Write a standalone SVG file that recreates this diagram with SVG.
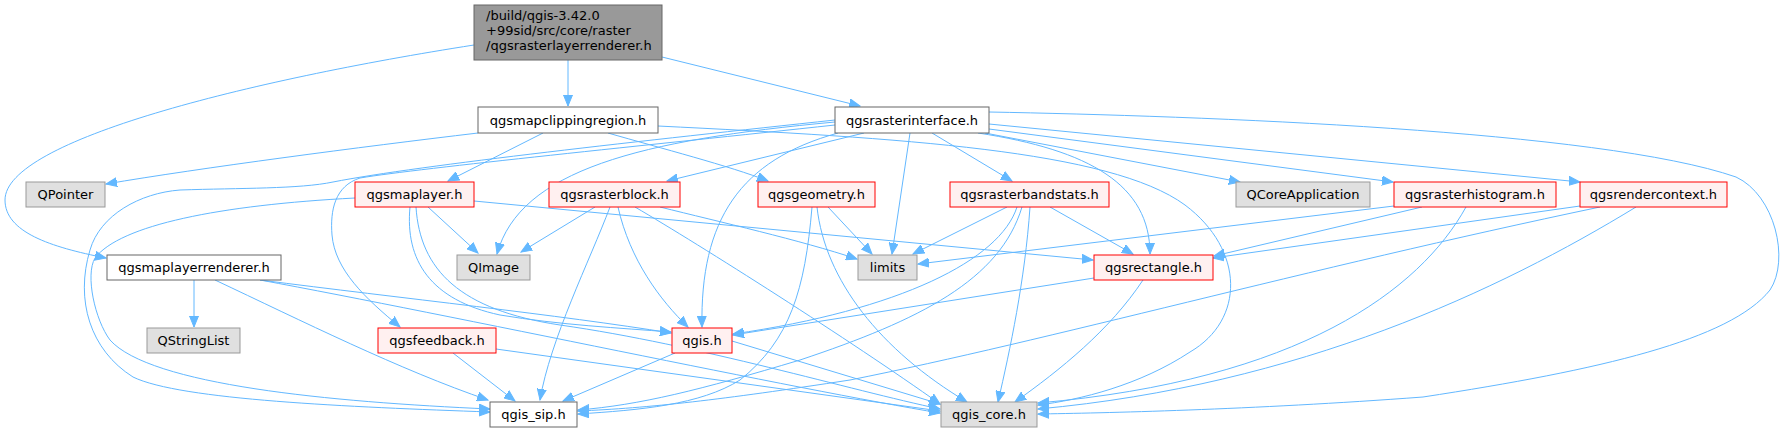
<svg xmlns="http://www.w3.org/2000/svg" width="1783" height="432" viewBox="0 0 1783 432">
<style>
.n rect{stroke-width:1}
.w rect{fill:#ffffff;stroke:#666666}
.g rect{fill:#e0e0e0;stroke:#999999}
.r rect{fill:#fff0f0;stroke:#ff0000}
.rt rect{fill:#999999;stroke:#666666}
text{font-family:"DejaVu Sans","Liberation Sans",sans-serif;font-size:13px;fill:#000000}
.n text{text-anchor:middle}
.rt text{text-anchor:start}
#edges path{fill:none;stroke:#63b8ff;stroke-width:1;marker-end:url(#arr)}
</style>
<defs>
<marker id="arr" markerWidth="12" markerHeight="10" refX="11" refY="5" orient="auto" markerUnits="userSpaceOnUse">
<path d="M0,0.5 L11,5 L0,9.5 z" fill="#63b8ff" stroke="#63b8ff" stroke-width="1"/>
</marker>
</defs>
<rect width="1783" height="432" fill="#ffffff"/>
<g id="edges">
<path d="M568,60 L568,106"/>
<path d="M662,57 L860,106"/>
<path d="M474,45 C 250,80 5,140 5,200 C 5,232 50,247 106,258"/>
<path d="M478,133 C 360,147 200,168 106,184"/>
<path d="M543,133 L448,181"/>
<path d="M608,133 C 660,148 730,166 768,181"/>
<path d="M658,126 C 900,138 1110,150 1185,205 C 1245,250 1245,320 1190,352 C 1140,385 1080,400 1038,405"/>
<path d="M864,133 L667,181"/>
<path d="M835,122 C 640,140 520,170 497,254"/>
<path d="M910,133 L892,254"/>
<path d="M932,133 L1012,181"/>
<path d="M978,133 C 1090,150 1150,185 1150,254"/>
<path d="M985,133 L1240,182"/>
<path d="M989,129 L1393,182"/>
<path d="M989,124 L1580,182"/>
<path d="M989,112 C 1200,116 1600,130 1736,177 C 1775,195 1790,260 1770,290 C 1730,340 1600,370 1423,397 C 1250,410 1100,413 1038,414"/>
<path d="M838,133 C 740,160 700,220 702,327"/>
<path d="M835,120 C 650,140 420,165 333,182 C 300,189 240,188 180,190 C 140,193 100,215 90,250 C 75,300 90,350 133,377 C 180,400 350,407 490,412"/>
<path d="M835,125 C 650,145 420,168 360,178 C 335,186 330,210 332,235 C 335,270 365,298 400,327"/>
<path d="M355,198 C 220,205 120,225 95,258 C 85,275 95,320 110,340 C 150,385 330,402 490,409"/>
<path d="M194,280 L194,327"/>
<path d="M215,280 C 300,320 400,370 488,400"/>
<path d="M260,280 C 400,298 560,315 671,333"/>
<path d="M260,280 C 450,315 800,390 940,413"/>
<path d="M428,207 L478,253"/>
<path d="M410,207 C 405,260 430,300 500,315 C 560,325 620,328 671,332"/>
<path d="M416,207 C 420,270 460,310 560,325 C 700,345 850,390 940,409"/>
<path d="M474,201 L1093,260"/>
<path d="M595,207 L521,252"/>
<path d="M610,207 C 590,260 550,340 540,400"/>
<path d="M618,207 C 630,260 660,300 688,327"/>
<path d="M635,207 C 700,245 850,340 940,404"/>
<path d="M660,207 C 720,222 800,240 857,259"/>
<path d="M828,207 L872,254"/>
<path d="M817,207 C 825,280 880,350 967,402"/>
<path d="M812,207 C 805,290 790,340 740,380 C 700,405 640,410 578,414"/>
<path d="M1007,207 L913,254"/>
<path d="M1017,207 C 1000,260 900,310 733,334"/>
<path d="M1022,207 C 1000,280 920,320 800,360 C 700,390 640,405 578,410"/>
<path d="M1030,207 C 1025,280 1010,350 998,402"/>
<path d="M1050,207 L1133,254"/>
<path d="M1394,206 L918,264"/>
<path d="M1422,207 L1214,256"/>
<path d="M1466,207 C 1420,290 1300,380 1038,403"/>
<path d="M1580,206 L1213,258"/>
<path d="M1600,207 C 1300,270 1050,340 850,380 C 720,400 650,408 578,411"/>
<path d="M1636,207 C 1500,290 1300,385 1038,409"/>
<path d="M1094,278 L733,335"/>
<path d="M1143,280 C 1110,330 1060,370 1015,402"/>
<path d="M453,353 L515,401"/>
<path d="M496,349 L940,411"/>
<path d="M675,353 L563,401"/>
<path d="M732,341 L940,404"/>
</g>
<g id="node_root" class="n rt"><rect x="474" y="5" width="188" height="55"/><text x="486" y="20">/build/qgis-3.42.0</text><text x="486" y="35">+99sid/src/core/raster</text><text x="486" y="50">/qgsrasterlayerrenderer.h</text></g>
<g id="node_mapclippingregion" class="n w"><rect x="478" y="107" width="180" height="26"/><text x="568" y="124.5">qgsmapclippingregion.h</text></g>
<g id="node_rasterinterface" class="n w"><rect x="835" y="107" width="154" height="26"/><text x="912" y="124.5">qgsrasterinterface.h</text></g>
<g id="node_qpointer" class="n g"><rect x="26" y="182" width="79" height="25"/><text x="65.5" y="199">QPointer</text></g>
<g id="node_maplayer" class="n r"><rect x="355" y="182" width="119" height="25"/><text x="414.5" y="199">qgsmaplayer.h</text></g>
<g id="node_rasterblock" class="n r"><rect x="549" y="182" width="131" height="25"/><text x="614.5" y="199">qgsrasterblock.h</text></g>
<g id="node_geometry" class="n r"><rect x="758" y="182" width="117" height="25"/><text x="816.5" y="199">qgsgeometry.h</text></g>
<g id="node_rasterbandstats" class="n r"><rect x="950" y="182" width="159" height="25"/><text x="1029.5" y="199">qgsrasterbandstats.h</text></g>
<g id="node_qcoreapplication" class="n g"><rect x="1236" y="182" width="134" height="25"/><text x="1303" y="199">QCoreApplication</text></g>
<g id="node_rasterhistogram" class="n r"><rect x="1394" y="182" width="162" height="25"/><text x="1475" y="199">qgsrasterhistogram.h</text></g>
<g id="node_rendercontext" class="n r"><rect x="1580" y="182" width="147" height="25"/><text x="1653.5" y="199">qgsrendercontext.h</text></g>
<g id="node_maplayerrenderer" class="n w"><rect x="107" y="255" width="174" height="25"/><text x="194" y="272">qgsmaplayerrenderer.h</text></g>
<g id="node_qimage" class="n g"><rect x="457" y="255" width="73" height="25"/><text x="493.5" y="272">QImage</text></g>
<g id="node_limits" class="n g"><rect x="858" y="255" width="59" height="25"/><text x="887.5" y="272">limits</text></g>
<g id="node_rectangle" class="n r"><rect x="1094" y="255" width="119" height="25"/><text x="1153.5" y="272">qgsrectangle.h</text></g>
<g id="node_qstringlist" class="n g"><rect x="147" y="328" width="93" height="25"/><text x="193.5" y="345">QStringList</text></g>
<g id="node_feedback" class="n r"><rect x="378" y="328" width="118" height="25"/><text x="437" y="345">qgsfeedback.h</text></g>
<g id="node_qgis" class="n r"><rect x="672" y="328" width="60" height="25"/><text x="702" y="345">qgis.h</text></g>
<g id="node_qgis_sip" class="n w"><rect x="490" y="402" width="87" height="25"/><text x="533.5" y="419">qgis_sip.h</text></g>
<g id="node_qgis_core" class="n g"><rect x="941" y="402" width="96" height="25"/><text x="989" y="419">qgis_core.h</text></g>
</svg>
